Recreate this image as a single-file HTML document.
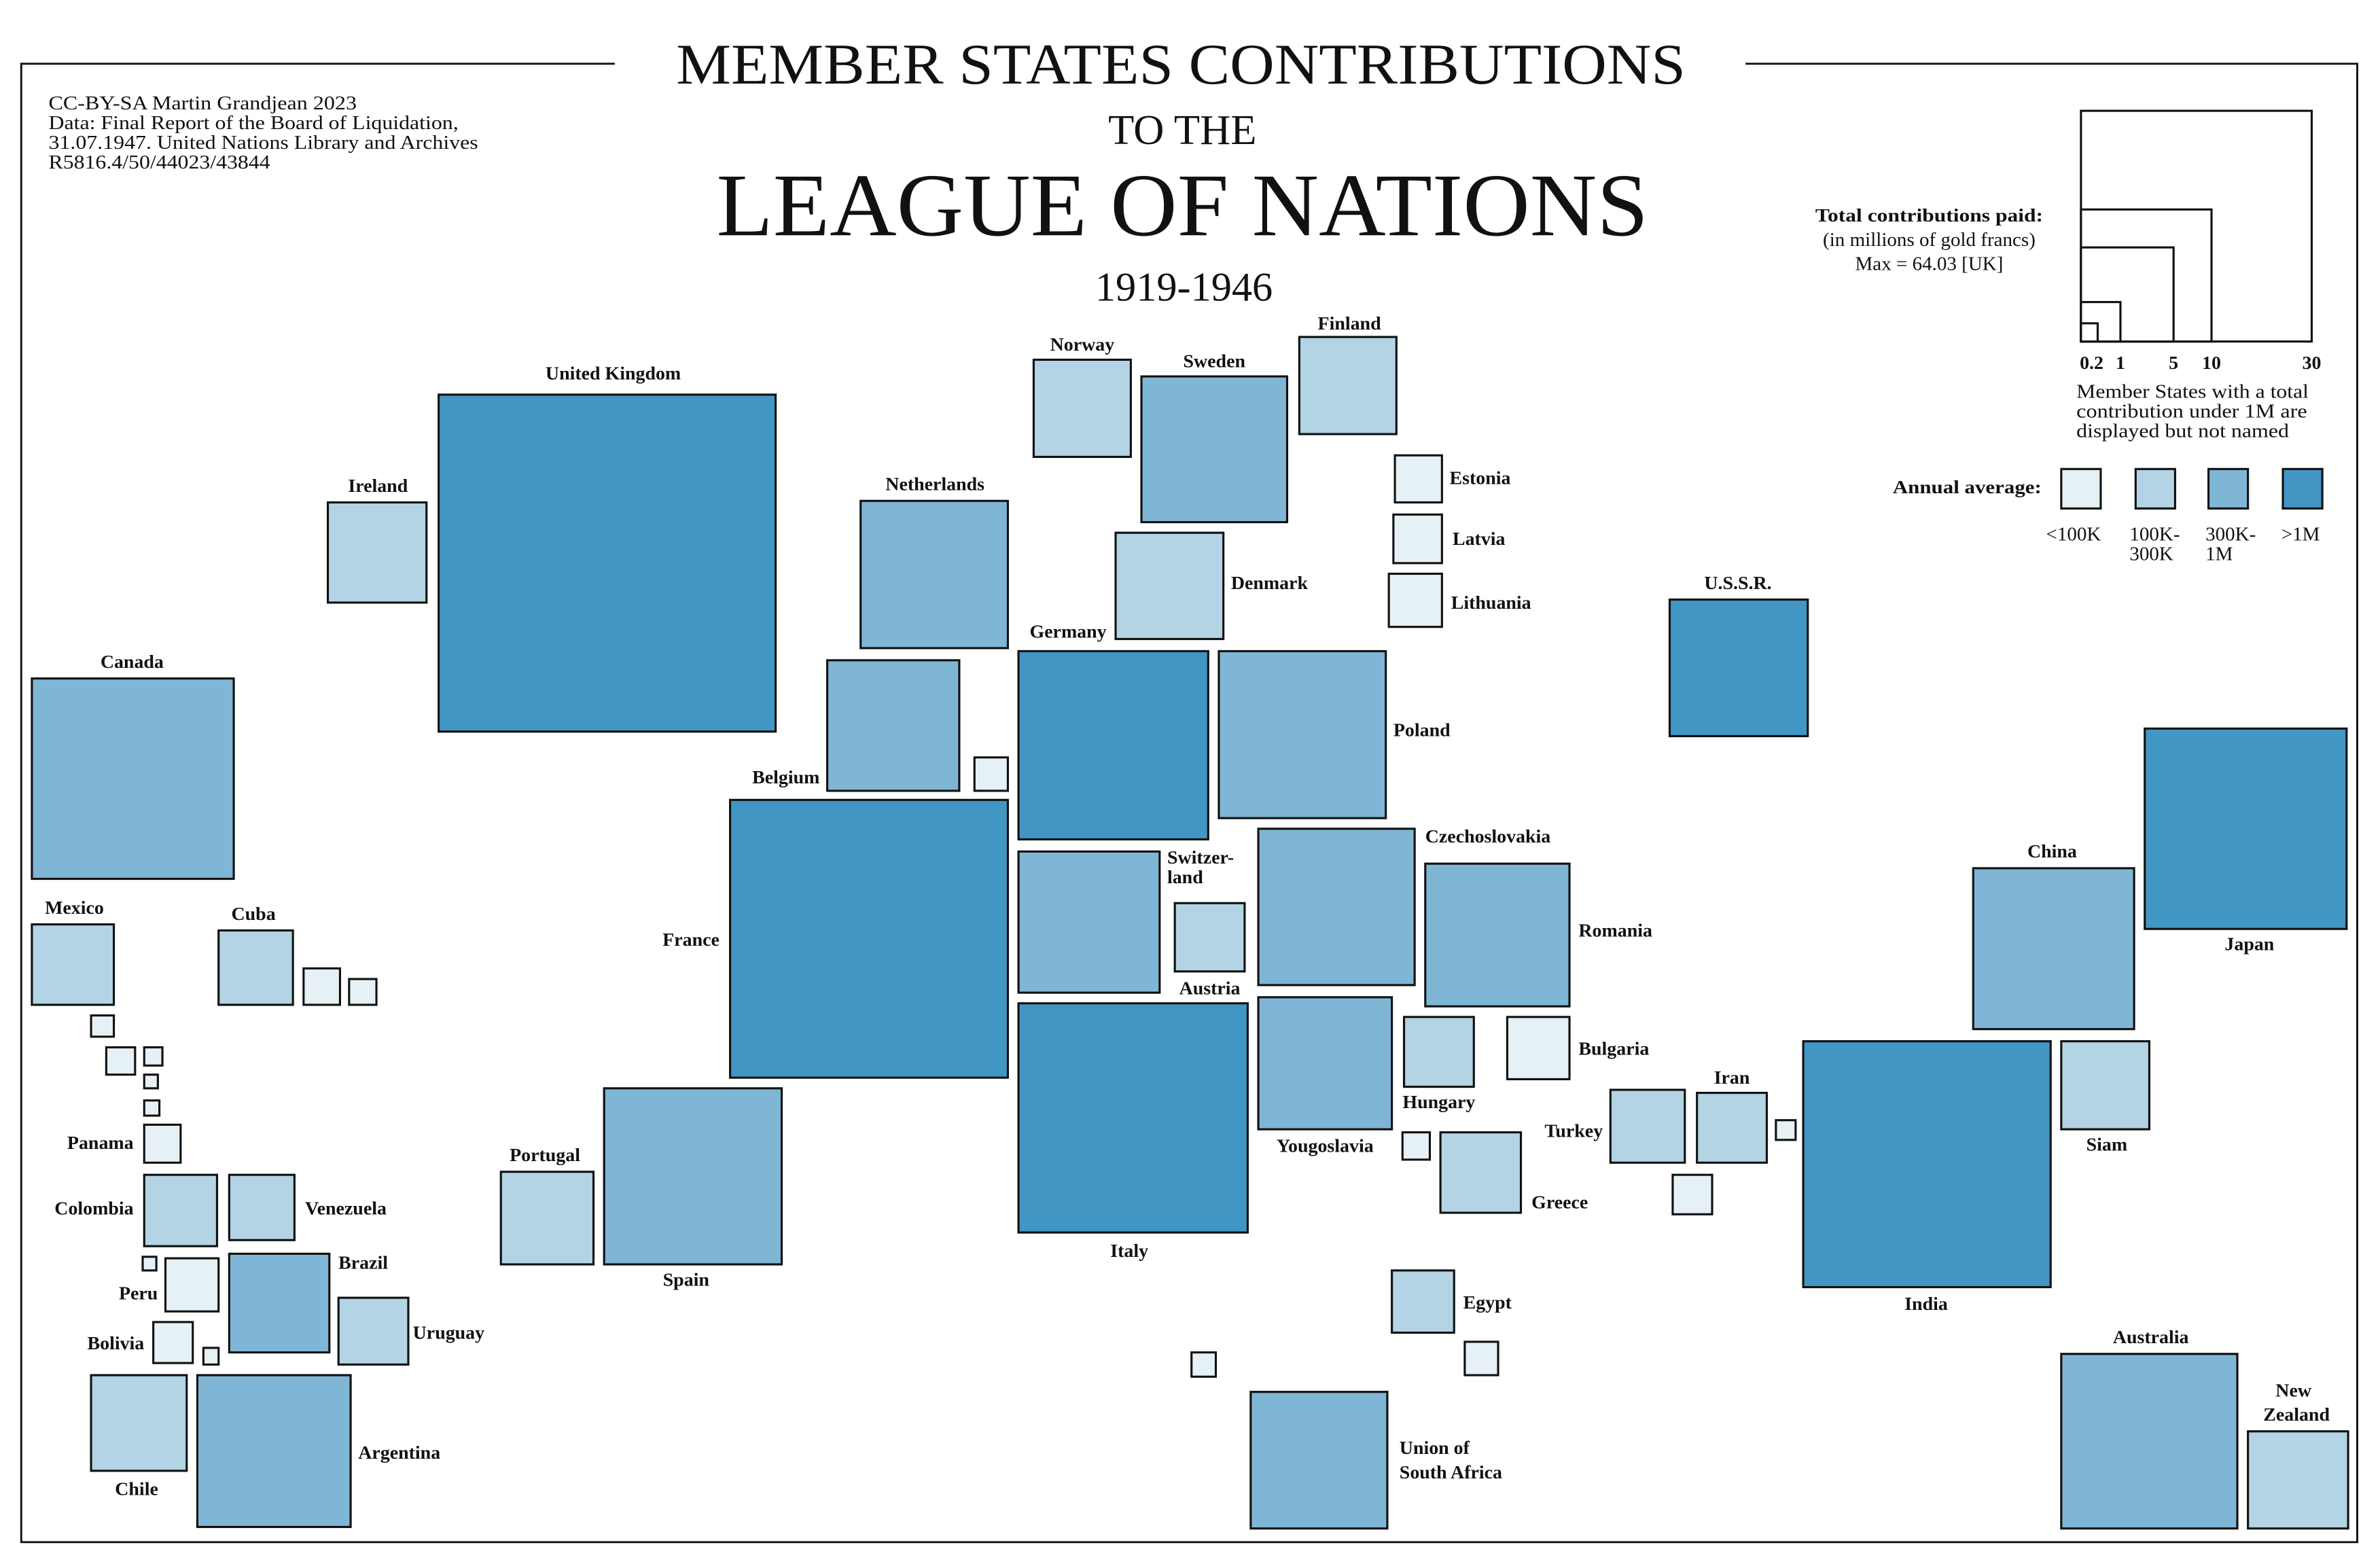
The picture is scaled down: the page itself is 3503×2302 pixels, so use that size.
<!DOCTYPE html>
<html><head><meta charset="utf-8"><style>
html,body{margin:0;padding:0;background:#fff;}
svg{display:block}
text{font-family:"Liberation Serif",serif;fill:#111}
.b{font-weight:bold;font-size:12.5px}
.r1{fill:#e6f1f6}.r2{fill:#b2d4e4}.r3{fill:#80b6d5}.r4{fill:#4196c4}
rect{stroke:#111;stroke-width:1.4}
</style></head><body>
<svg width="3503" height="2302" viewBox="0 0 1568 1030.4" preserveAspectRatio="none">
<g fill="none" stroke="#111" stroke-width="1.3">
<path d="M405 42 H14 V1016 H1553 V42 H1150"/>
</g>
<text x="778" y="55" text-anchor="middle" font-size="38" textLength="665" lengthAdjust="spacingAndGlyphs">MEMBER STATES CONTRIBUTIONS</text>
<text x="779" y="95" text-anchor="middle" font-size="28">TO THE</text>
<text x="779" y="155" text-anchor="middle" font-size="59" textLength="614" lengthAdjust="spacingAndGlyphs">LEAGUE OF NATIONS</text>
<text x="780" y="198" text-anchor="middle" font-size="27">1919-1946</text>
<g font-size="13">
<text x="32" y="72" textLength="203" lengthAdjust="spacingAndGlyphs">CC-BY-SA Martin Grandjean 2023</text>
<text x="32" y="85" textLength="270" lengthAdjust="spacingAndGlyphs">Data: Final Report of the Board of Liquidation,</text>
<text x="32" y="98" textLength="283" lengthAdjust="spacingAndGlyphs">31.07.1947. United Nations Library and Archives</text>
<text x="32" y="111" textLength="146" lengthAdjust="spacingAndGlyphs">R5816.4/50/44023/43844</text>
</g>
<!-- legend -->
<g fill="#fff">
<rect x="1371" y="73" width="152" height="152" style="fill:#fff"/>
<rect x="1371" y="138" width="86" height="87" style="fill:#fff"/>
<rect x="1371" y="163" width="61" height="62" style="fill:#fff"/>
<rect x="1371" y="199" width="26" height="26" style="fill:#fff"/>
<rect x="1371" y="213" width="11" height="12" style="fill:#fff"/>
</g>
<g text-anchor="middle">
<text class="b" x="1378" y="243">0.2</text><text class="b" x="1397" y="243">1</text><text class="b" x="1432" y="243">5</text><text class="b" x="1457" y="243">10</text><text class="b" x="1523" y="243">30</text>
</g>
<text class="b" x="1271" y="146" text-anchor="middle" textLength="150" lengthAdjust="spacingAndGlyphs">Total contributions paid:</text>
<text x="1271" y="162" text-anchor="middle" font-size="13">(in millions of gold francs)</text>
<text x="1271" y="178" text-anchor="middle" font-size="13">Max = 64.03 [UK]</text>
<g font-size="13"><text x="1368" y="262" textLength="153" lengthAdjust="spacingAndGlyphs">Member States with a total</text><text x="1368" y="275" textLength="152" lengthAdjust="spacingAndGlyphs">contribution under 1M are</text><text x="1368" y="288" textLength="140" lengthAdjust="spacingAndGlyphs">displayed but not named</text></g>
<text class="b" x="1345" y="325" text-anchor="end" textLength="98" lengthAdjust="spacingAndGlyphs">Annual average:</text>
<rect class="r1" x="1358" y="309" width="26" height="26"/>
<rect class="r2" x="1407" y="309" width="26" height="26"/>
<rect class="r3" x="1455" y="309" width="26" height="26"/>
<rect class="r4" x="1504" y="309" width="26" height="26"/>
<g font-size="13">
<text x="1348" y="356">&lt;100K</text>
<text x="1403" y="356">100K-</text><text x="1403" y="369">300K</text>
<text x="1453" y="356">300K-</text><text x="1453" y="369">1M</text>
<text x="1503" y="356">&gt;1M</text>
</g>
<!-- Europe -->
<rect class="r4" x="289" y="260" width="222" height="222"/>
<rect class="r2" x="216" y="331" width="65" height="66"/>
<rect class="r3" x="21" y="447" width="133" height="132"/>
<rect class="r3" x="567" y="330" width="97" height="97"/>
<rect class="r3" x="545" y="435" width="87" height="86"/>
<rect class="r1" x="642" y="499" width="22" height="22"/>
<rect class="r4" x="671" y="429" width="125" height="124"/>
<rect class="r2" x="681" y="237" width="64" height="64"/>
<rect class="r3" x="752" y="248" width="96" height="96"/>
<rect class="r2" x="856" y="222" width="64" height="64"/>
<rect class="r1" x="919" y="300" width="31" height="31"/>
<rect class="r1" x="918" y="339" width="32" height="32"/>
<rect class="r1" x="915" y="378" width="35" height="35"/>
<rect class="r2" x="735" y="351" width="71" height="70"/>
<rect class="r3" x="803" y="429" width="110" height="110"/>
<rect class="r4" x="1100" y="395" width="91" height="90"/>
<rect class="r4" x="481" y="527" width="183" height="183"/>
<rect class="r3" x="671" y="561" width="93" height="93"/>
<rect class="r2" x="774" y="595" width="46" height="45"/>
<rect class="r3" x="829" y="546" width="103" height="103"/>
<rect class="r3" x="939" y="569" width="95" height="94"/>
<rect class="r3" x="829" y="657" width="88" height="87"/>
<rect class="r2" x="925" y="670" width="46" height="46"/>
<rect class="r1" x="993" y="670" width="41" height="41"/>
<rect class="r1" x="924" y="746" width="18" height="18"/>
<rect class="r2" x="949" y="746" width="53" height="53"/>
<rect class="r4" x="671" y="661" width="151" height="151"/>
<rect class="r2" x="330" y="772" width="61" height="61"/>
<rect class="r3" x="398" y="717" width="117" height="116"/>
<rect class="r2" x="1061" y="718" width="49" height="48"/>
<rect class="r2" x="1118" y="720" width="46" height="46"/>
<rect class="r1" x="1170" y="738" width="13" height="13"/>
<rect class="r1" x="1102" y="774" width="26" height="26"/>
<rect class="r4" x="1188" y="686" width="163" height="162"/>
<rect class="r2" x="1358" y="686" width="58" height="58"/>
<rect class="r3" x="1300" y="572" width="106" height="106"/>
<rect class="r4" x="1413" y="480" width="133" height="132"/>
<rect class="r2" x="917" y="837" width="41" height="41"/>
<rect class="r1" x="965" y="884" width="22" height="22"/>
<rect class="r1" x="785" y="891" width="16" height="16"/>
<rect class="r3" x="824" y="917" width="90" height="90"/>
<rect class="r3" x="1358" y="892" width="116" height="115"/>
<rect class="r2" x="1481" y="943" width="66" height="64"/>
<!-- Americas -->
<rect class="r2" x="21" y="609" width="54" height="53"/>
<rect class="r1" x="60" y="669" width="15" height="14"/>
<rect class="r1" x="70" y="690" width="19" height="18"/>
<rect class="r1" x="95" y="690" width="12" height="12"/>
<rect class="r1" x="95" y="708" width="9" height="9"/>
<rect class="r1" x="95" y="725" width="10" height="10"/>
<rect class="r1" x="95" y="741" width="24" height="25"/>
<rect class="r2" x="95" y="774" width="48" height="47"/>
<rect class="r2" x="151" y="774" width="43" height="43"/>
<rect class="r1" x="94" y="828" width="9" height="9"/>
<rect class="r1" x="109" y="829" width="35" height="35"/>
<rect class="r3" x="151" y="826" width="66" height="65"/>
<rect class="r2" x="223" y="855" width="46" height="44"/>
<rect class="r1" x="101" y="871" width="26" height="27"/>
<rect class="r1" x="134" y="888" width="10" height="11"/>
<rect class="r2" x="60" y="906" width="63" height="63"/>
<rect class="r3" x="130" y="906" width="101" height="100"/>
<rect class="r2" x="144" y="613" width="49" height="49"/>
<rect class="r1" x="200" y="638" width="24" height="24"/>
<rect class="r1" x="230" y="645" width="18" height="17"/>
<!-- labels -->
<g class="b">
<text x="404" y="250" text-anchor="middle">United Kingdom</text>
<text x="249" y="324" text-anchor="middle">Ireland</text>
<text x="87" y="440" text-anchor="middle">Canada</text>
<text x="616" y="323" text-anchor="middle">Netherlands</text>
<text x="540" y="516" text-anchor="end">Belgium</text>
<text x="729" y="420" text-anchor="end">Germany</text>
<text x="713" y="231" text-anchor="middle">Norway</text>
<text x="800" y="242" text-anchor="middle">Sweden</text>
<text x="889" y="217" text-anchor="middle">Finland</text>
<text x="955" y="319">Estonia</text>
<text x="957" y="359">Latvia</text>
<text x="956" y="401">Lithuania</text>
<text x="811" y="388">Denmark</text>
<text x="918" y="485">Poland</text>
<text x="1145" y="388" text-anchor="middle">U.S.S.R.</text>
<text x="474" y="623" text-anchor="end">France</text>
<text x="769" y="569">Switzer-</text>
<text x="769" y="582">land</text>
<text x="797" y="655" text-anchor="middle">Austria</text>
<text x="939" y="555">Czechoslovakia</text>
<text x="1040" y="617">Romania</text>
<text x="873" y="759" text-anchor="middle">Yougoslavia</text>
<text x="948" y="730" text-anchor="middle">Hungary</text>
<text x="1040" y="695">Bulgaria</text>
<text x="1009" y="796">Greece</text>
<text x="744" y="828" text-anchor="middle">Italy</text>
<text x="359" y="765" text-anchor="middle">Portugal</text>
<text x="452" y="847" text-anchor="middle">Spain</text>
<text x="1056" y="749" text-anchor="end">Turkey</text>
<text x="1141" y="714" text-anchor="middle">Iran</text>
<text x="1269" y="863" text-anchor="middle">India</text>
<text x="1388" y="758" text-anchor="middle">Siam</text>
<text x="1352" y="565" text-anchor="middle">China</text>
<text x="1482" y="626" text-anchor="middle">Japan</text>
<text x="964" y="862">Egypt</text>
<text x="922" y="958">Union of</text>
<text x="922" y="974">South Africa</text>
<text x="1417" y="885" text-anchor="middle">Australia</text>
<text x="1511" y="920" text-anchor="middle">New</text>
<text x="1513" y="936" text-anchor="middle">Zealand</text>
<text x="49" y="602" text-anchor="middle">Mexico</text>
<text x="167" y="606" text-anchor="middle">Cuba</text>
<text x="88" y="757" text-anchor="end">Panama</text>
<text x="88" y="800" text-anchor="end">Colombia</text>
<text x="201" y="800">Venezuela</text>
<text x="223" y="836">Brazil</text>
<text x="104" y="856" text-anchor="end">Peru</text>
<text x="95" y="889" text-anchor="end">Bolivia</text>
<text x="272" y="882">Uruguay</text>
<text x="90" y="985" text-anchor="middle">Chile</text>
<text x="236" y="961">Argentina</text>
</g>
</svg>
</body></html>
